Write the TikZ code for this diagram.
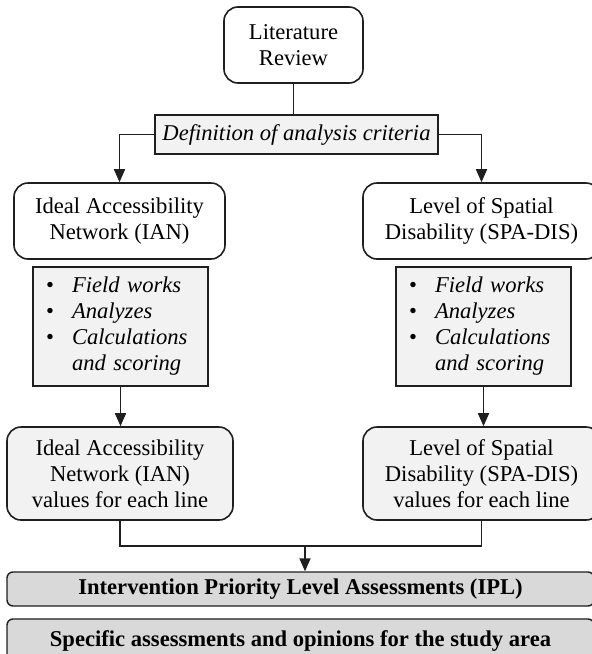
\documentclass[tikz,border=0pt]{standalone}
\usepackage{fontspec}
\setmainfont{Liberation Serif}
\usetikzlibrary{arrows.meta}

\definecolor{edgegray}{HTML}{1F1F1F}
\definecolor{lightfill}{HTML}{F2F2F2}
\definecolor{barfill}{HTML}{D9D9D9}

\tikzset{
	every node/.style={font=\fontsize{22.6}{26}\selectfont, align=center, inner sep=0pt},
	roundbox/.style={draw=edgegray, line width=1.6pt, rounded corners=14pt},
	plainbox/.style={draw=edgegray, line width=1.2pt, fill=lightfill},
	barbox/.style={draw=edgegray, line width=1.4pt, fill=barfill, rounded corners=6pt, font=\fontsize{22.6}{26}\selectfont\bfseries},
	link/.style={draw=edgegray, line width=1.7pt},
	flow/.style={link, -{Triangle[width=11pt,length=13pt]}}
}

\newcommand{\worklist}{%
	\begin{tabular}{@{}p{26pt}@{}l@{}}
		\textbullet & \textit{Field works}\\
		\textbullet & \textit{Analyzes}\\
		\textbullet & \textit{Calculations}\\
		            & \textit{and scoring}
	\end{tabular}}

\begin{document}
\begin{tikzpicture}[x=1pt,y=-1pt]
	\useasboundingbox (0,0) rectangle (592,654);
	%top
	\node[roundbox, minimum width=139pt, minimum height=76pt] (lit) at (293.5,45) {Literature\\Review};
	\node[plainbox, minimum width=283pt, minimum height=39pt] (crit) at (296.5,134.5) {\textit{Definition of analysis criteria}};
	%two branches
	\node[roundbox, minimum width=211pt, minimum height=76pt] (ianL) at (119.5,221) {Ideal Accessibility\\Network (IAN)};
	\node[roundbox, minimum width=237pt, minimum height=76pt] (spaR) at (481.5,221) {Level of Spatial\\Disability (SPA-DIS)};
	\node[plainbox, minimum width=175pt, minimum height=119pt, text width=149pt, align=left] (workL) at (120.5,326.5) {\worklist};
	\node[plainbox, minimum width=175pt, minimum height=119pt, text width=149pt, align=left] (workR) at (483.5,326.5) {\worklist};
	\node[roundbox, fill=lightfill, minimum width=226pt, minimum height=93pt] (valL) at (120,473.5) {Ideal Accessibility\\Network (IAN)\\values for each line};
	\node[roundbox, fill=lightfill, minimum width=237pt, minimum height=93pt] (valR) at (481.5,473.5) {Level of Spatial\\Disability (SPA-DIS)\\values for each line};
	%results
	\node[barbox, minimum width=587pt, minimum height=34pt] (ipl) at (300.5,589) {Intervention Priority Level Assessments (IPL)};
	\node[barbox, minimum width=587pt, minimum height=44pt] (spec) at (300.5,641) {Specific assessments and opinions for the study area};
	%connectors
	\draw[link] (lit.south) -- (lit.south |- crit.north);
	\draw[flow] (crit.west) -| (ianL.north);
	\draw[flow] (crit.east) -| (spaR.north);
	\draw[flow] (workL.south) -- (workL.south |- valL.north);
	\draw[flow] (workR.south) -- (workR.south |- valR.north);
	\coordinate (join) at (305,546);
	\draw[link] (valL.south) |- (join) -| (valR.south);
	\draw[flow] (join) -- (join |- ipl.north);
\end{tikzpicture}
\end{document}
